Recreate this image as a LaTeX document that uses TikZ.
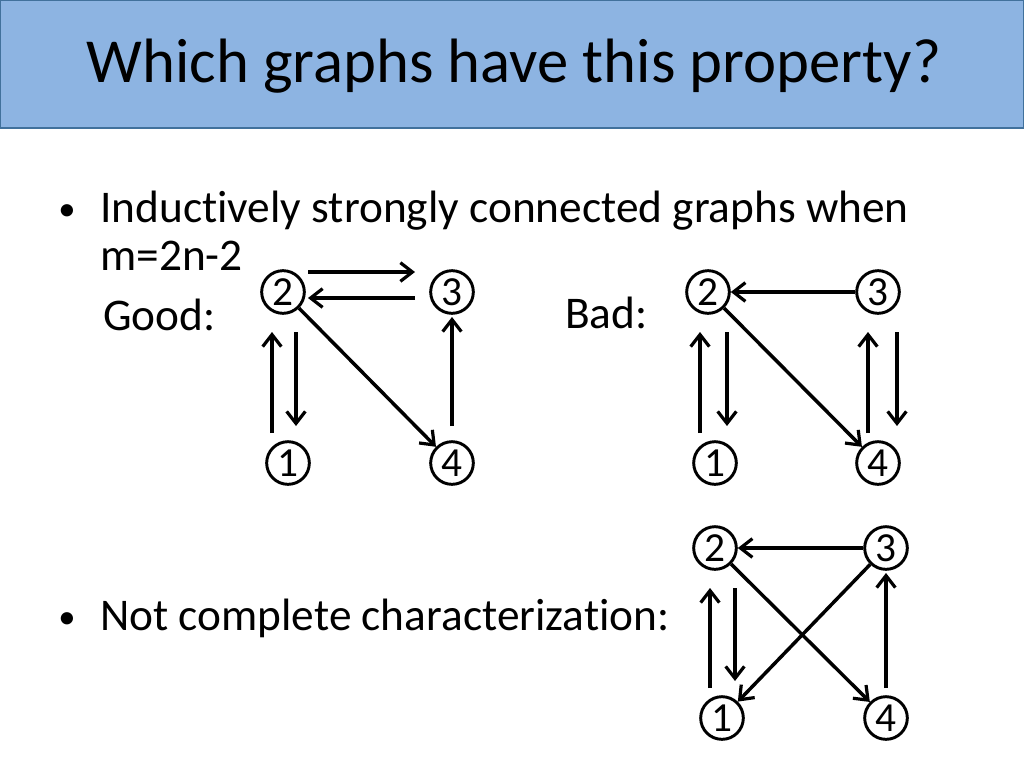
\documentclass[tikz,border=0pt]{standalone}
\usepackage{fontspec}
\setmainfont[Ligatures={NoCommon}]{Carlito}
\usetikzlibrary{arrows.meta}
\begin{document}
\begin{tikzpicture}[x=0.75pt,y=-0.75pt,
  vx/.style={circle,draw,line width=2.2pt,minimum size=32pt,inner sep=0pt,font=\fontsize{31}{31}\selectfont},
  ar/.style={line width=2.6pt,-{Straight Barb[length=9pt,width=14pt,line width=2.4pt]}},
  txt/.style={font=\fontsize{34}{38}\selectfont,anchor=base west,inner sep=0pt}]
\useasboundingbox (0,0) rectangle (1024,768);
\fill[white] (0,0) rectangle (1024,768);
\draw[fill={rgb,255:red,141;green,180;blue,226},draw={rgb,255:red,65;green,113;blue,156},line width=1.5pt] (0,0) rectangle (1024,128);
\node[font=\fontsize{47}{50}\selectfont] (title) at (514,66) {Which graphs have this property?};
\node[txt,font=\fontsize{26}{30}\selectfont] (b1) at (58,220) {\textbullet};
\node[txt] (t1) at (100,222) {Inductively strongly connected graphs when};
\node[txt] (t2) at (100,270) {m=2n-2};
\node[txt] (good) at (103,330) {Good:};
\node[txt] (bad) at (565,328) {Bad:};
\node[txt,font=\fontsize{26}{30}\selectfont] (b2) at (58,628) {\textbullet};
\node[txt] (t3) at (100,630) {Not complete characterization:};
% Good
\node[vx] (g2) at (283,292) {2};
\node[vx] (g3) at (452,292) {3};
\node[vx] (g1) at (288,463) {1};
\node[vx] (g4) at (452,463) {4};
\draw[ar] ([shift={(25,-20)}]g2.center) -- ([shift={(-37,-20)}]g3.center);
\draw[ar] ([shift={(-37,6)}]g3.center) -- ([shift={(25,6)}]g2.center);
\draw[ar] ([shift={(-16,-30)}]g1.center) -- ([shift={(-11,40)}]g2.center);
\draw[ar] ([shift={(13,40)}]g2.center) -- ([shift={(8,-37)}]g1.center);
\draw[ar] (g2) -- (g4);
\draw[ar] ([shift={(0,-37)}]g4.center) -- ([shift={(0,25)}]g3.center);
% Bad
\node[vx] (d2) at (708,292) {2};
\node[vx] (d3) at (878,292) {3};
\node[vx] (d1) at (715,463) {1};
\node[vx] (d4) at (878,463) {4};
\draw[ar] (d3) -- (d2);
\draw[ar] ([shift={(-15,-30)}]d1.center) -- ([shift={(-8,40)}]d2.center);
\draw[ar] ([shift={(19,40)}]d2.center) -- ([shift={(12,-37)}]d1.center);
\draw[ar] (d2) -- (d4);
\draw[ar] ([shift={(-10,-30)}]d4.center) -- ([shift={(-10,40)}]d3.center);
\draw[ar] ([shift={(19,40)}]d3.center) -- ([shift={(19,-37)}]d4.center);
% Third
\node[vx] (c2) at (715,548) {2};
\node[vx] (c3) at (886,548) {3};
\node[vx] (c1) at (722,718) {1};
\node[vx] (c4) at (886,718) {4};
\draw[ar] (c3) -- (c2);
\draw[ar] ([shift={(-12,-30)}]c1.center) -- ([shift={(-5,40)}]c2.center);
\draw[ar] ([shift={(20,40)}]c2.center) -- ([shift={(13,-37)}]c1.center);
\draw[ar] (c2) -- (c4);
\draw[ar] (c3) -- (c1);
\draw[ar] ([shift={(0,-30)}]c4.center) -- ([shift={(0,25)}]c3.center);
\end{tikzpicture}
\end{document}
